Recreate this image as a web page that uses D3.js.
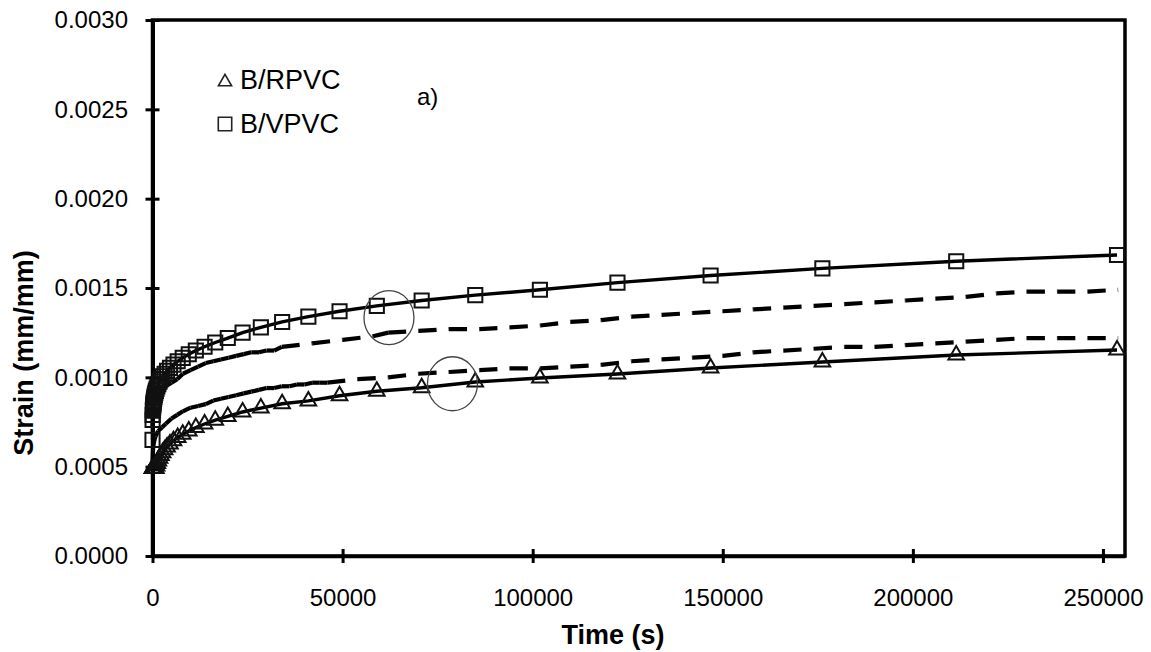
<!DOCTYPE html>
<html>
<head>
<meta charset="utf-8">
<script src="https://cdnjs.cloudflare.com/ajax/libs/d3/7.8.5/d3.min.js"></script>
<style>
  body { margin: 0; background: #fff; }
  svg { display: block; }
  text { font-family: "Liberation Sans", Arial, sans-serif; fill: #000; }
</style>
</head>
<body>
<svg id="chart" width="1151" height="652"></svg>
<script>

// times (s) of the fitted curves, where the markers sit
var fitTime = [0, 20, 50, 100, 120, 144, 173, 207, 250, 300, 360, 430, 515, 620, 740, 890,
  1070, 1280, 1540, 1850, 2220, 2660, 3190, 3830, 4600, 5520, 6620, 7950, 9540, 11400,
  13700, 16500, 19800, 23700, 28500, 34100, 41000, 49200, 59000, 70800, 84900, 101900,
  122300, 146800, 176200, 211400, 253700];

// B/RPVC fit (triangles)
var rpvcFit = [0.00049, 0.00049, 0.00049, 0.00049, 0.00049, 0.00049, 0.00049, 0.00049,
  0.00049, 0.00049, 0.00049, 0.00049, 0.00049, 0.00049, 0.00049, 0.00049,
  0.000504, 0.000518, 0.000532, 0.000547, 0.000562, 0.000578, 0.000594, 0.00061,
  0.000627, 0.000645, 0.000663, 0.000681, 0.0007, 0.000719, 0.000739, 0.00076,
  0.000781, 0.000806, 0.000828, 0.000852, 0.000868, 0.000897, 0.000922, 0.000942,
  0.000974, 0.000996, 0.001019, 0.001052, 0.001086, 0.001125, 0.001153];

// B/VPVC fit (squares)
var vpvcFit = [0.00065, 0.000762, 0.000789, 0.000814, 0.000821, 0.000829, 0.000837, 0.000845,
  0.000853, 0.000862, 0.000872, 0.000881, 0.000891, 0.000902, 0.000913, 0.000924,
  0.000936, 0.000949, 0.000962, 0.000976, 0.00099, 0.001005, 0.00102, 0.001036,
  0.001053, 0.001071, 0.00109, 0.001109, 0.001129, 0.00115, 0.001171, 0.001195,
  0.00122, 0.00125, 0.00128, 0.00131, 0.00134, 0.00137, 0.0014, 0.00143,
  0.00146, 0.00149, 0.00153, 0.00157, 0.00161, 0.00165, 0.001685];

// measured B/RPVC (lower dashed)
var rpvcExpTime = [0, 150, 400, 800, 1500, 2500, 3500, 5000, 6500, 8000, 10000, 12000, 14000,
  16000, 18000, 20000, 22000, 24000, 26000, 28000, 30000, 32000, 34000, 36000, 38000,
  40000, 42000, 44000, 46000, 54000, 62000, 70000, 78000, 86000, 94000, 102000, 110000,
  118000, 126000, 134000, 142000, 150000, 158000, 166000, 174000, 182000, 190000, 198000,
  206000, 214000, 222000, 230000, 238000, 246000, 254000];
var rpvcExp = [0.00052, 0.0006, 0.00064, 0.00067, 0.0007, 0.00072, 0.00074, 0.00077, 0.00079,
  0.00081, 0.00083, 0.00084, 0.00085, 0.00087, 0.00088, 0.00089, 0.0009, 0.00091, 0.00092,
  0.00093, 0.00094, 0.00094, 0.00095, 0.00095, 0.00096, 0.00096, 0.00097, 0.00097, 0.00097,
  0.00099, 0.001, 0.00102, 0.00103, 0.00104, 0.00105, 0.00105, 0.00106, 0.00107, 0.00109,
  0.0011, 0.00111, 0.00112, 0.00114, 0.00115, 0.00116, 0.00117, 0.00117, 0.00118, 0.00119,
  0.0012, 0.00121, 0.00122, 0.00122, 0.00122, 0.00122];

// measured B/VPVC (upper dashed)
var vpvcExpTime = [0, 150, 400, 800, 1500, 2500, 3500, 5000, 6500, 8000, 10000, 12000, 14000,
  16000, 18000, 20000, 22000, 24000, 26000, 28000, 30000, 32000, 34000, 42000, 50000, 58000,
  62000, 70000, 78000, 86000, 94000, 102000, 110000, 118000, 126000, 134000, 142000, 150000,
  158000, 166000, 174000, 182000, 190000, 198000, 206000, 214000, 222000, 230000, 238000,
  246000, 254000];
var vpvcExp = [0.00072, 0.00082, 0.00086, 0.00088, 0.0009, 0.00093, 0.00095, 0.00097, 0.00099,
  0.00102, 0.00104, 0.00106, 0.00108, 0.00109, 0.0011, 0.00111, 0.00112, 0.00113, 0.00114,
  0.00114, 0.00115, 0.00115, 0.00117, 0.00119, 0.00121, 0.00123, 0.00125, 0.00126, 0.00127,
  0.00127, 0.00128, 0.00129, 0.00131, 0.00132, 0.00134, 0.00135, 0.00136, 0.00137, 0.00138,
  0.00139, 0.0014, 0.00141, 0.00142, 0.00143, 0.00144, 0.00145, 0.00147, 0.00148, 0.00148,
  0.00148, 0.00149];

var xTicks = [0, 50000, 100000, 150000, 200000, 250000];
var yTicks = [0, 0.0005, 0.001, 0.0015, 0.002, 0.0025, 0.003];
var legendNames = ["B/RPVC", "B/VPVC"];

// the two hand drawn circles (centre in data units)
var ringTime = [62200, 78900];
var ringStrain = [0.001334, 0.000964];

var svg = d3.select("#chart");

var x = d3.scaleLinear().domain([0, 255800]).range([152.5, 1125]);
var y = d3.scaleLinear().domain([0, 0.003]).range([556, 20]);

// plot frame
svg.append("rect")
    .attr("x", x(0)).attr("y", y(0.003))
    .attr("width", x(255800) - x(0)).attr("height", y(0) - y(0.003))
    .attr("fill", "none").attr("stroke", "#000").attr("stroke-width", 3.5);

var xAxis = svg.append("g")
    .attr("transform", "translate(0," + y(0) + ")")
    .call(d3.axisBottom(x).tickValues(xTicks).tickFormat(d3.format("d"))
      .tickSize(7).tickSizeOuter(0).tickPadding(26));
xAxis.select(".domain").attr("stroke-width", 3.5);
xAxis.selectAll(".tick line").attr("y1", -7).attr("stroke-width", 3);
xAxis.selectAll(".tick text").style("font-size", "24px").attr("font-family", null);

var yAxis = svg.append("g")
    .attr("transform", "translate(" + x(0) + ",0)")
    .call(d3.axisLeft(y).tickValues(yTicks).tickFormat(d3.format(".4f"))
      .tickSize(7).tickSizeOuter(0).tickPadding(17.5));
yAxis.select(".domain").attr("stroke-width", 4);
yAxis.selectAll(".tick line").attr("x1", 7).attr("stroke-width", 3);
yAxis.selectAll(".tick text").style("font-size", "24px").attr("font-family", null);

svg.append("text")
    .attr("x", 613).attr("y", 644)
    .attr("text-anchor", "middle")
    .style("font-size", "27px").style("font-weight", "bold")
    .text("Time (s)");

svg.append("text")
    .attr("transform", "translate(33,353) rotate(-90)")
    .attr("text-anchor", "middle")
    .style("font-size", "27px").style("font-weight", "bold")
    .text("Strain (mm/mm)");

// measured curves: every step is its own dashed piece, so the dense start reads as solid
function dashed(times, vals) {
  var pts = times.map(function(t, i) { return [x(t), y(vals[i])]; });
  svg.append("g").selectAll("line")
      .data(d3.pairs(pts))
    .join("line")
      .attr("x1", function(d) { return d[0][0]; })
      .attr("y1", function(d) { return d[0][1]; })
      .attr("x2", function(d) { return d[1][0]; })
      .attr("y2", function(d) { return d[1][1]; })
      .attr("stroke", "#000")
      .attr("stroke-width", 4.2)
      .attr("stroke-dasharray", "18,12");
}
dashed(vpvcExpTime, vpvcExp);
dashed(rpvcExpTime, rpvcExp);

var line = d3.line()
    .x(function(d) { return x(d[0]); })
    .y(function(d) { return y(d[1]); });

function fitted(vals, shape, area) {
  var pts = fitTime.map(function(t, i) { return [t, vals[i]]; });
  svg.append("path")
      .datum(pts)
      .attr("fill", "none")
      .attr("stroke", "#000")
      .attr("stroke-width", 3.4)
      .attr("d", line);
  svg.append("g").selectAll("path")
      .data(pts)
    .join("path")
      .attr("transform", function(d) { return "translate(" + x(d[0]) + "," + y(d[1]) + ")"; })
      .attr("d", d3.symbol().type(shape).size(area))
      .attr("fill", "none")
      .attr("stroke", "#111")
      .attr("stroke-width", 2);
}
fitted(rpvcFit, d3.symbolTriangle, 105);
fitted(vpvcFit, d3.symbolSquare, 200);

// circles
svg.selectAll(".ring")
    .data(ringTime)
  .join("ellipse")
    .attr("class", "ring")
    .attr("cx", function(d) { return x(d); })
    .attr("cy", function(d, i) { return y(ringStrain[i]); })
    .attr("rx", 25).attr("ry", 27)
    .attr("fill", "none")
    .attr("stroke", "#444")
    .attr("stroke-width", 1.3);

// legend
var legend = svg.append("g");
legend.selectAll("path")
    .data(legendNames)
  .join("path")
    .attr("transform", function(d, i) { return "translate(225," + (i ? 124 : 82) + ")"; })
    .attr("d", function(d, i) {
      return d3.symbol().type(i ? d3.symbolSquare : d3.symbolTriangle).size(i ? 180 : 75)();
    })
    .attr("fill", "none")
    .attr("stroke", "#222")
    .attr("stroke-width", 1.6);
legend.selectAll("text")
    .data(legendNames)
  .join("text")
    .attr("x", 240)
    .attr("y", function(d, i) { return i ? 133 : 89; })
    .style("font-size", "27px")
    .text(function(d) { return d; });

svg.append("text")
    .attr("x", 417).attr("y", 105)
    .style("font-size", "24px")
    .text("a)");

</script>
</body>
</html>
